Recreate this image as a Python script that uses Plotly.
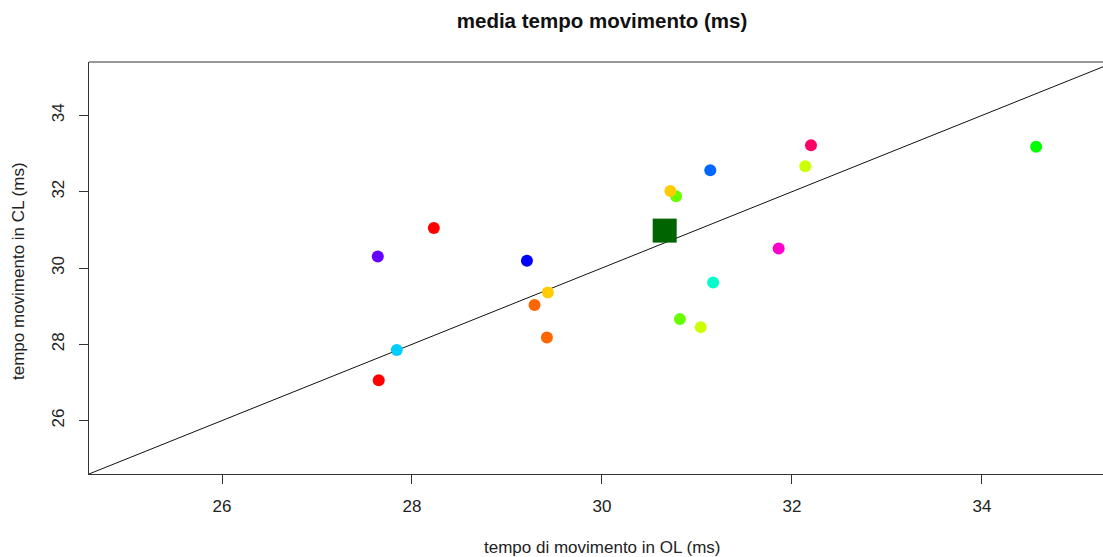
import plotly.graph_objects as go

# data
ol_ms = [27.65, 30.82, 29.43, 31.04, 30.78, 34.57, 31.17, 27.84, 31.14, 29.21,
         27.64, 31.86, 32.20, 28.23, 29.29, 30.72, 32.14, 29.42]
cl_ms = [27.06, 28.66, 29.36, 28.45, 31.88, 33.18, 29.62, 27.85, 32.56, 30.19,
         30.30, 30.51, 33.22, 31.05, 29.03, 32.02, 32.67, 28.18]
colors = ["#FF0000", "#66FF00", "#FFCC00", "#CCFF00", "#66FF00", "#00FF00", "#00FFCC",
          "#00CCFF", "#0066FF", "#0000FF", "#6600FF", "#FF00CC", "#FF0066", "#FF0000",
          "#FF6600", "#FFCC00", "#CCFF00", "#FF6600"]
mean_ol = [30.66]
mean_cl = [30.98]

x_range = [24.6, 35.274]
y_range = [24.6, 35.4]
ticks = [26, 28, 30, 32, 34]

W, H = 1103, 557
ML, MT, MB, MR = 89, 62, 83, 0

fig = go.Figure()
# identity line y = x
diag = [min(x_range[0], y_range[0]) - 1, max(x_range[1], y_range[1]) + 1]
fig.add_trace(go.Scatter(x=diag, y=diag, mode="lines",
                         line=dict(color="#111111", width=1), hoverinfo="skip",
                         showlegend=False))
fig.add_trace(go.Scatter(x=ol_ms, y=cl_ms, mode="markers",
                         marker=dict(color=colors, size=12, line=dict(width=0)),
                         showlegend=False))
fig.add_trace(go.Scatter(x=mean_ol, y=mean_cl, mode="markers",
                         marker=dict(color="#006400", size=24, symbol="square",
                                     line=dict(width=0)),
                         showlegend=False))

font = "Liberation Sans, Arial, sans-serif"
axis_common = dict(showgrid=False, zeroline=False, showline=True, linecolor="#333333",
                   linewidth=1, ticks="outside", ticklen=9, tickcolor="#333333",
                   tickwidth=1, tickvals=ticks, ticktext=[str(t) for t in ticks],
                   tickfont=dict(family=font, size=17, color="#222222"))

fig.update_layout(
    width=W, height=H,
    margin=dict(l=ML, r=MR, t=MT, b=MB, pad=0),
    paper_bgcolor="white", plot_bgcolor="white",
    xaxis=dict(range=x_range, ticklabelstandoff=8, **axis_common),
    yaxis=dict(range=y_range, tickangle=-90, ticklabelstandoff=8, **axis_common),
    title=dict(text="<b>media tempo movimento (ms)</b>", xref="container", yref="container",
               x=602 / W, y=1 - 21 / H, xanchor="center", yanchor="middle",
               font=dict(family=font, size=20.5, color="#111111")),
    shapes=[dict(type="line", xref="paper", yref="paper", x0=0, x1=1, y0=1, y1=1,
                 line=dict(color="#333333", width=1))],
    annotations=[
        dict(text="tempo di movimento in OL (ms)", xref="paper", yref="paper",
             x=(602 - ML) / (W - ML - MR), y=-(547 - (H - MB)) / (H - MT - MB),
             xanchor="center", yanchor="middle", showarrow=False,
             font=dict(family=font, size=17, color="#222222")),
        dict(text="tempo movimento in CL (ms)", xref="paper", yref="paper",
             x=(18 - ML) / (W - ML - MR), y=((H - MB) - 271) / (H - MT - MB),
             xanchor="center", yanchor="middle", textangle=-90, showarrow=False,
             font=dict(family=font, size=17, color="#222222")),
    ],
)

fig.write_html("out.html")
